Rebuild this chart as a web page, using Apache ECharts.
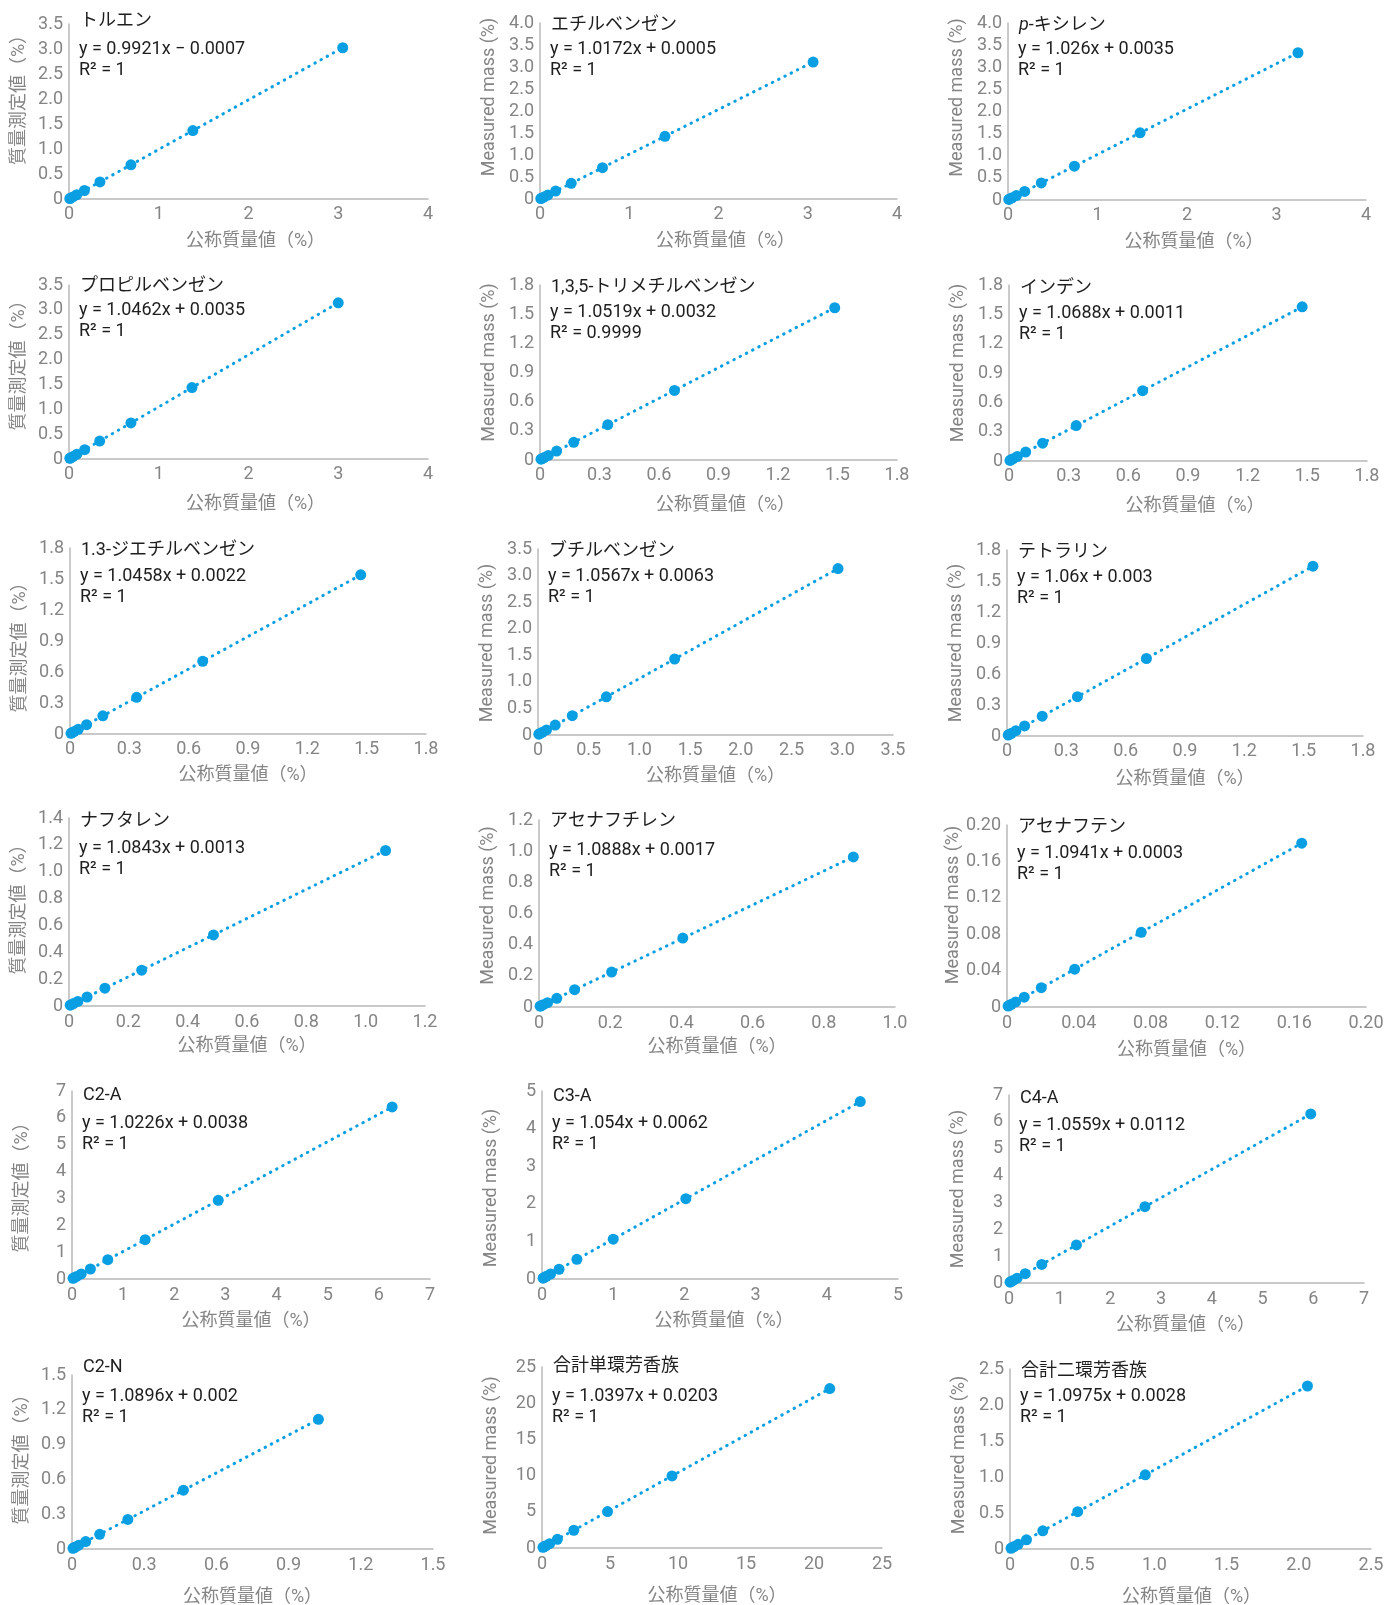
<!DOCTYPE html>
<html>
<head>
<meta charset="utf-8">
<script src="https://cdn.jsdelivr.net/npm/echarts@6/dist/echarts.min.js"></script>
<style>
  html, body { margin: 0; padding: 0; background: #ffffff; }
  #chart { width: 1387px; height: 1605px; }
</style>
</head>
<body>
<div id="chart"></div>
<script>
// Compound names (panel titles), in reading order
const compounds = [
  'トルエン', 'エチルベンゼン', '{i|p}-キシレン',
  'プロピルベンゼン', '1,3,5-トリメチルベンゼン', 'インデン',
  '1.3-ジエチルベンゼン', 'ブチルベンゼン', 'テトラリン',
  'ナフタレン', 'アセナフチレン', 'アセナフテン',
  'C2-A', 'C3-A', 'C4-A',
  'C2-N', '合計単環芳香族', '合計二環芳香族'
];

// Linear fit results for each compound
const slopes     = [0.9921, 1.0172, 1.026, 1.0462, 1.0519, 1.0688, 1.0458, 1.0567, 1.06,
                    1.0843, 1.0888, 1.0941, 1.0226, 1.054, 1.0559, 1.0896, 1.0397, 1.0975];
const intercepts = [-0.0007, 0.0005, 0.0035, 0.0035, 0.0032, 0.0011, 0.0022, 0.0063, 0.003,
                    0.0013, 0.0017, 0.0003, 0.0038, 0.0062, 0.0112, 0.002, 0.0203, 0.0028];
const rSquared   = ['1', '1', '1', '1', '0.9999', '1', '1', '1', '1',
                    '1', '1', '1', '1', '1', '1', '1', '1', '1'];

// Nominal (x) and measured (y) mass %, one pair of lists per compound
const tolueneNominal = [0.009, 0.017, 0.043, 0.086, 0.172, 0.345, 0.69, 1.38, 3.05];
const tolueneMeasured = [0.008, 0.016, 0.042, 0.085, 0.170, 0.342, 0.684, 1.368, 3.025];
const ethylbenzeneNominal = [0.009, 0.018, 0.044, 0.088, 0.175, 0.35, 0.70, 1.40, 3.06];
const ethylbenzeneMeasured = [0.010, 0.019, 0.045, 0.090, 0.179, 0.357, 0.713, 1.425, 3.113];
const pXyleneNominal = [0.009, 0.019, 0.046, 0.093, 0.186, 0.372, 0.742, 1.476, 3.24];
const pXyleneMeasured = [0.013, 0.023, 0.051, 0.099, 0.194, 0.385, 0.765, 1.518, 3.328];
const propylbenzeneNominal = [0.009, 0.018, 0.044, 0.088, 0.175, 0.342, 0.69, 1.37, 3.00];
const propylbenzeneMeasured = [0.013, 0.022, 0.050, 0.096, 0.187, 0.361, 0.725, 1.437, 3.142];
const trimethylbenzeneNominal = [0.005, 0.011, 0.021, 0.042, 0.084, 0.17, 0.342, 0.678, 1.486];
const trimethylbenzeneMeasured = [0.008, 0.015, 0.025, 0.047, 0.092, 0.182, 0.363, 0.716, 1.566];
const indeneNominal = [0.005, 0.010, 0.021, 0.042, 0.084, 0.169, 0.338, 0.672, 1.474];
const indeneMeasured = [0.006, 0.012, 0.024, 0.046, 0.091, 0.182, 0.362, 0.719, 1.577];
const diethylbenzeneNominal = [0.005, 0.010, 0.021, 0.042, 0.084, 0.166, 0.337, 0.671, 1.47];
const diethylbenzeneMeasured = [0.007, 0.013, 0.024, 0.046, 0.090, 0.176, 0.355, 0.704, 1.540];
const butylbenzeneNominal = [0.008, 0.017, 0.042, 0.084, 0.17, 0.338, 0.674, 1.347, 2.958];
const butylbenzeneMeasured = [0.015, 0.024, 0.051, 0.095, 0.186, 0.364, 0.719, 1.430, 3.132];
const tetralinNominal = [0.006, 0.011, 0.022, 0.045, 0.089, 0.178, 0.356, 0.705, 1.547];
const tetralinMeasured = [0.009, 0.015, 0.026, 0.051, 0.097, 0.192, 0.380, 0.750, 1.643];
const naphthaleneNominal = [0.004, 0.008, 0.015, 0.030, 0.061, 0.121, 0.245, 0.487, 1.067];
const naphthaleneMeasured = [0.006, 0.010, 0.018, 0.034, 0.067, 0.133, 0.267, 0.529, 1.158];
const acenaphthyleneNominal = [0.003, 0.006, 0.012, 0.024, 0.050, 0.100, 0.204, 0.404, 0.883];
const acenaphthyleneMeasured = [0.005, 0.008, 0.015, 0.028, 0.056, 0.111, 0.224, 0.442, 0.963];
const acenaphtheneNominal = [0.0006, 0.0012, 0.0024, 0.0048, 0.0096, 0.0191, 0.0377, 0.0748, 0.1642];
const acenaphtheneMeasured = [0.0010, 0.0016, 0.0029, 0.0056, 0.0108, 0.0212, 0.0415, 0.0821, 0.1800];
const c2aNominal = [0.02, 0.04, 0.09, 0.18, 0.36, 0.70, 1.43, 2.86, 6.26];
const c2aMeasured = [0.024, 0.045, 0.096, 0.188, 0.372, 0.720, 1.466, 2.929, 6.405];
const c3aNominal = [0.015, 0.03, 0.06, 0.12, 0.24, 0.49, 1.0, 2.02, 4.47];
const c3aMeasured = [0.022, 0.038, 0.070, 0.133, 0.259, 0.523, 1.060, 2.135, 4.718];
const c4aNominal = [0.02, 0.04, 0.08, 0.16, 0.32, 0.645, 1.33, 2.68, 5.95];
const c4aMeasured = [0.032, 0.053, 0.096, 0.180, 0.349, 0.692, 1.416, 2.841, 6.294];
const c2nNominal = [0.004, 0.007, 0.014, 0.028, 0.057, 0.115, 0.232, 0.463, 1.024];
const c2nMeasured = [0.006, 0.010, 0.017, 0.033, 0.064, 0.127, 0.255, 0.507, 1.118];
const monoTotalNominal = [0.07, 0.14, 0.28, 0.56, 1.13, 2.34, 4.82, 9.56, 21.16];
const monoTotalMeasured = [0.093, 0.166, 0.311, 0.603, 1.195, 2.453, 5.032, 9.960, 22.020];
const diTotalNominal = [0.007, 0.014, 0.028, 0.057, 0.114, 0.227, 0.469, 0.937, 2.06];
const diTotalMeasured = [0.010, 0.018, 0.034, 0.065, 0.128, 0.252, 0.518, 1.031, 2.264];

// Axis ranges and tick steps
const yMax   = [3.5, 4, 4, 3.5, 1.8, 1.8, 1.8, 3.5, 1.8, 1.4, 1.2, 0.2, 7, 5, 7, 1.5, 25, 2.5];
const yStep  = [0.5, 0.5, 0.5, 0.5, 0.3, 0.3, 0.3, 0.5, 0.3, 0.2, 0.2, 0.04, 1, 1, 1, 0.3, 5, 0.5];
const yDigits = [1, 1, 1, 1, 1, 1, 1, 1, 1, 1, 1, 2, 0, 0, 0, 1, 0, 1];
const xMax   = [4, 4, 4, 4, 1.8, 1.8, 1.8, 3.5, 1.8, 1.2, 1.0, 0.2, 7, 5, 7, 1.5, 25, 2.5];
const xStep  = [1, 1, 1, 1, 0.3, 0.3, 0.3, 0.5, 0.3, 0.2, 0.2, 0.04, 1, 1, 1, 0.3, 5, 0.5];
const xDigits = [0, 0, 0, 0, 1, 1, 1, 1, 1, 1, 1, 2, 0, 0, 0, 1, 0, 1];

// Axis titles
const xAxisTitle = '公称質量値（%）';
const yAxisTitleJa = '質量測定値（%）';
const yAxisTitleEn = 'Measured mass (%)';

const nominalSets = [
  tolueneNominal, ethylbenzeneNominal, pXyleneNominal,
  propylbenzeneNominal, trimethylbenzeneNominal, indeneNominal,
  diethylbenzeneNominal, butylbenzeneNominal, tetralinNominal,
  naphthaleneNominal, acenaphthyleneNominal, acenaphtheneNominal,
  c2aNominal, c3aNominal, c4aNominal,
  c2nNominal, monoTotalNominal, diTotalNominal
];
const measuredSets = [
  tolueneMeasured, ethylbenzeneMeasured, pXyleneMeasured,
  propylbenzeneMeasured, trimethylbenzeneMeasured, indeneMeasured,
  diethylbenzeneMeasured, butylbenzeneMeasured, tetralinMeasured,
  naphthaleneMeasured, acenaphthyleneMeasured, acenaphtheneMeasured,
  c2aMeasured, c3aMeasured, c4aMeasured,
  c2nMeasured, monoTotalMeasured, diTotalMeasured
];

// Panel layout:
// [left, top, right, bottom, titleCenterY, equationCenterY,
//  xNameGap, xNameShift (+right), yNameShift (+down)]
const panelBoxes = [
  [69, 24, 428, 199, 21, 49,        34, 7, -16],
  [540, 23, 897, 199, 25, 49,       34, 7, -14],
  [1008, 23, 1366, 200, 25, 49,     34, 7, -14],
  [69, 285, 428, 459, 286, 310,     37, 7, -11],
  [540, 285, 897, 460, 287, 312,    37, 7, -10],
  [1009, 285, 1367, 461, 288, 313,  37, 7, -10],
  [70, 548, 426, 734, 550, 576,     33, 0, 2],
  [538, 549, 893, 735, 551, 576,    33, 0, 1],
  [1007, 550, 1363, 736, 552, 577,  35, 0, 0],
  [69, 818, 425, 1006, 821, 848,    31, 0, -7],
  [539, 820, 895, 1007, 821, 850,   31, 0, -8],
  [1007, 825, 1366, 1007, 827, 853, 34, 0, -11],
  [72, 1091, 430, 1279, 1095, 1123, 33, 0, -2],
  [542, 1091, 898, 1279, 1096, 1123, 33, 4, 3],
  [1009, 1095, 1364, 1283, 1098, 1125, 33, -1, 0],
  [72, 1375, 433, 1549, 1367, 1396, 39, 0, -7],
  [542, 1367, 882, 1548, 1366, 1396, 39, 5, -2],
  [1010, 1369, 1371, 1549, 1371, 1396, 39, 1, -4]
];

const FONT = 'Roboto, "Noto Sans CJK JP", sans-serif';
const GREY = '#858585';
const INK = '#1e1e1e';
const BLUE = '#0a9fe3';
const AXIS_LINE = '#b8b8b8';

function tickText(v, digits) {
  if (Math.abs(v) < 1e-9) return '0';
  return v.toFixed(digits);
}

function equationText(m, b) {
  const sign = b < 0 ? ' \u2212 ' : ' + ';
  return 'y = ' + String(m) + 'x' + sign + String(Math.abs(b));
}

// Horizontal name: positive shift moves the text right
function xNamePadding(s) {
  return s >= 0 ? [0, 0, 0, 2 * s] : [0, -2 * s, 0, 0];
}
// Rotated (bottom-to-top) name: positive shift moves the text down
function yNamePadding(s) {
  return s <= 0 ? [0, 0, 0, -2 * s] : [0, 2 * s, 0, 0];
}

const grids = [], xAxes = [], yAxes = [], series = [], graphics = [];

panelBoxes.forEach(function (box, i) {
  const [L, T, R, B, titleY, eqY, xGap, xShift, yShift] = box;
  const col = i % 3;

  grids.push({ left: L, top: T, width: R - L, height: B - T, containLabel: false, outerBoundsMode: 'none' });

  xAxes.push({
    type: 'value', gridIndex: i, min: 0, max: xMax[i], interval: xStep[i],
    name: xAxisTitle, nameLocation: 'middle', nameGap: xGap,
    nameTextStyle: { color: GREY, fontSize: 18, fontFamily: FONT, padding: xNamePadding(xShift) },
    axisLine: { show: true, lineStyle: { color: AXIS_LINE, width: 1.5 } },
    axisTick: { show: false },
    splitLine: { show: false },
    axisLabel: {
      color: GREY, fontSize: 18, fontFamily: FONT, margin: 7,
      formatter: (function (d) { return function (v) { return tickText(v, d); }; })(xDigits[i])
    }
  });

  yAxes.push({
    type: 'value', gridIndex: i, min: 0, max: yMax[i], interval: yStep[i],
    name: col === 0 ? yAxisTitleJa : yAxisTitleEn,
    nameLocation: 'middle', nameGap: col === 0 ? 41 : 42, nameRotate: 90,
    nameTextStyle: { color: GREY, fontSize: 18, fontFamily: FONT, padding: yNamePadding(yShift) },
    axisLine: { show: true, lineStyle: { color: AXIS_LINE, width: 1.5 } },
    axisTick: { show: false },
    splitLine: { show: false },
    axisLabel: {
      color: GREY, fontSize: 18, fontFamily: FONT, margin: 6,
      formatter: (function (d) { return function (v) { return tickText(v, d); }; })(yDigits[i])
    }
  });

  // Fitted trend line across the measured range
  const xs = nominalSets[i];
  const x0 = Math.min.apply(null, xs);
  const x1 = Math.max.apply(null, xs);
  const m = slopes[i], b = intercepts[i];
  series.push({
    type: 'line', xAxisIndex: i, yAxisIndex: i, silent: true,
    showSymbol: false, symbol: 'none', z: 2,
    data: [[x0, m * x0 + b], [x1, m * x1 + b]],
    lineStyle: { color: BLUE, width: 3, type: [0.5, 6.5], cap: 'round' }
  });

  series.push({
    type: 'scatter', xAxisIndex: i, yAxisIndex: i, z: 3,
    symbolSize: 11,
    itemStyle: { color: BLUE, opacity: 1 },
    data: xs.map(function (x, k) { return [x, measuredSets[i][k]]; })
  });

  graphics.push({
    type: 'text', x: L + 11, y: titleY, z: 10,
    style: {
      text: compounds[i], fill: INK, fontSize: 18, fontFamily: FONT,
      verticalAlign: 'middle', align: 'left',
      rich: { i: { fontStyle: 'italic', fontSize: 18, fontFamily: FONT, fill: INK } }
    }
  });
  graphics.push({
    type: 'text', x: L + 10, y: eqY, z: 10,
    style: {
      text: equationText(m, b), fill: INK, fontSize: 18, fontFamily: FONT,
      verticalAlign: 'middle', align: 'left'
    }
  });
  graphics.push({
    type: 'text', x: L + 10, y: eqY + 21, z: 10,
    style: {
      text: 'R\u00b2 = ' + rSquared[i], fill: INK, fontSize: 18, fontFamily: FONT,
      verticalAlign: 'middle', align: 'left'
    }
  });
});

const chart = echarts.init(document.getElementById('chart'), null, { renderer: 'canvas', width: 1387, height: 1605 });
chart.setOption({
  backgroundColor: '#ffffff',
  animation: false,
  grid: grids,
  xAxis: xAxes,
  yAxis: yAxes,
  series: series,
  graphic: graphics
});
</script>
</body>
</html>
